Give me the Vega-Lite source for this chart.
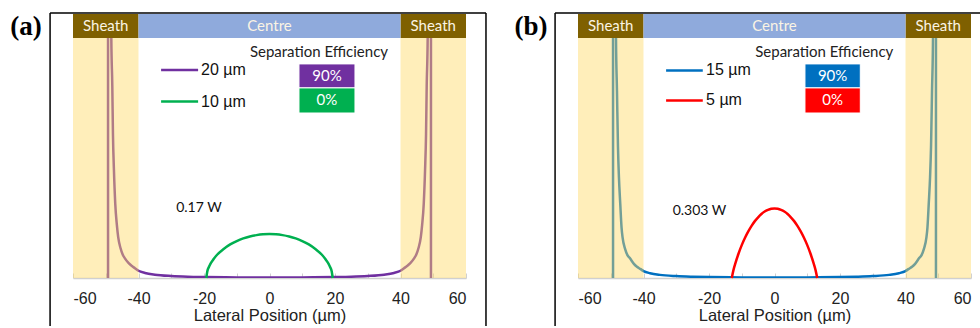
{
  "$schema": "https://vega.github.io/schema/vega-lite/v6.json",
  "autosize": {"type": "pad"},
  "padding": {"left": 10, "top": 12, "right": 0, "bottom": 0},
  "background": "white",
  "spacing": 112,
  "bounds": "flush",
  "config": {
    "view": {"stroke": null},
    "axisX": {"values": [-60, -40, -20, 0, 20, 40, 60], "grid": false, "labelExpr": "replace(datum.label, '−', '-')",
              "domainColor": "#d0d0d0", "domainWidth": 1.5, "tickColor": "#d0d0d0", "tickSize": -5, "tickWidth": 1,
              "labelPadding": 17, "labelFont": "Liberation Sans", "labelFontSize": 16, "labelColor": "#222",
              "titleFont": "Liberation Sans", "titleFontSize": 16.5, "titleFontWeight": "normal", "titleColor": "#222", "titlePadding": 1}
  },
  "datasets": {
    "u20": [
      {"x": -48.45, "y": 1.4}, {"x": -48.3, "y": 1.0}, {"x": -48.0, "y": 0.8}, {"x": -47.8, "y": 0.6}, {"x": -47.5, "y": 0.45},
      {"x": -47.1, "y": 0.31}, {"x": -46.6, "y": 0.22}, {"x": -46.2, "y": 0.17}, {"x": -45.5, "y": 0.125}, {"x": -44.8, "y": 0.097},
      {"x": -44.2, "y": 0.083}, {"x": -43.0, "y": 0.062}, {"x": -42.0, "y": 0.05}, {"x": -41.0, "y": 0.04}, {"x": -40.0, "y": 0.03},
      {"x": -38.0, "y": 0.021}, {"x": -35.0, "y": 0.014}, {"x": -30.0, "y": 0.0085}, {"x": -25.0, "y": 0.0055}, {"x": -20.0, "y": 0.004},
      {"x": -10.0, "y": 0.0025}, {"x": 0, "y": 0.002},
      {"x": 10.0, "y": 0.0025}, {"x": 20.0, "y": 0.004}, {"x": 25.0, "y": 0.0055}, {"x": 30.0, "y": 0.0085}, {"x": 35.0, "y": 0.014},
      {"x": 38.0, "y": 0.021}, {"x": 40.0, "y": 0.03}, {"x": 41.0, "y": 0.04}, {"x": 42.0, "y": 0.05}, {"x": 43.0, "y": 0.062},
      {"x": 44.2, "y": 0.083}, {"x": 44.8, "y": 0.097}, {"x": 45.5, "y": 0.125}, {"x": 46.2, "y": 0.17}, {"x": 46.6, "y": 0.22},
      {"x": 47.1, "y": 0.31}, {"x": 47.5, "y": 0.45}, {"x": 47.8, "y": 0.6}, {"x": 48.0, "y": 0.8}, {"x": 48.3, "y": 1.0}, {"x": 48.45, "y": 1.4}
    ],
    "u15": [
      {"x": -48.5, "y": 1.4}, {"x": -48.4, "y": 1.0}, {"x": -48.1, "y": 0.78}, {"x": -47.8, "y": 0.55}, {"x": -47.5, "y": 0.42},
      {"x": -47.1, "y": 0.31}, {"x": -46.7, "y": 0.21}, {"x": -46.4, "y": 0.17}, {"x": -45.6, "y": 0.12}, {"x": -44.9, "y": 0.095},
      {"x": -44.3, "y": 0.085}, {"x": -43.0, "y": 0.06}, {"x": -42.0, "y": 0.047}, {"x": -41.0, "y": 0.038}, {"x": -40.0, "y": 0.029},
      {"x": -38.0, "y": 0.02}, {"x": -35.0, "y": 0.013}, {"x": -30.0, "y": 0.008}, {"x": -25.0, "y": 0.0055}, {"x": -20.0, "y": 0.004},
      {"x": -10.0, "y": 0.0025}, {"x": 0, "y": 0.002},
      {"x": 10.0, "y": 0.0025}, {"x": 20.0, "y": 0.004}, {"x": 25.0, "y": 0.0055}, {"x": 30.0, "y": 0.008}, {"x": 35.0, "y": 0.013},
      {"x": 38.0, "y": 0.02}, {"x": 40.0, "y": 0.029}, {"x": 41.0, "y": 0.038}, {"x": 42.0, "y": 0.047}, {"x": 43.0, "y": 0.06},
      {"x": 44.3, "y": 0.085}, {"x": 44.9, "y": 0.095}, {"x": 45.6, "y": 0.12}, {"x": 46.4, "y": 0.17}, {"x": 46.7, "y": 0.21},
      {"x": 47.1, "y": 0.31}, {"x": 47.5, "y": 0.42}, {"x": 47.8, "y": 0.55}, {"x": 48.1, "y": 0.78}, {"x": 48.4, "y": 1.0}, {"x": 48.5, "y": 1.4}
    ],
    "p10": [
      {"x": -19.3, "y": 0}, {"x": -19, "y": 0.027}, {"x": -18.5, "y": 0.046}, {"x": -18, "y": 0.06}, {"x": -17, "y": 0.08},
      {"x": -16, "y": 0.097}, {"x": -14, "y": 0.121}, {"x": -12, "y": 0.14}, {"x": -10, "y": 0.154}, {"x": -8, "y": 0.165},
      {"x": -6, "y": 0.173}, {"x": -4, "y": 0.1786}, {"x": -2, "y": 0.182}, {"x": 0, "y": 0.183},
      {"x": 2, "y": 0.182}, {"x": 4, "y": 0.1786}, {"x": 6, "y": 0.173}, {"x": 8, "y": 0.165}, {"x": 10, "y": 0.154},
      {"x": 12, "y": 0.14}, {"x": 14, "y": 0.121}, {"x": 16, "y": 0.097}, {"x": 17, "y": 0.08}, {"x": 18, "y": 0.06},
      {"x": 18.5, "y": 0.046}, {"x": 19, "y": 0.027}, {"x": 19.3, "y": 0}
    ],
    "p5": [
      {"x": -13.05, "y": 0}, {"x": -12.5, "y": 0.0348}, {"x": -12, "y": 0.059}, {"x": -11, "y": 0.101}, {"x": -10, "y": 0.137},
      {"x": -9, "y": 0.1675}, {"x": -8, "y": 0.194}, {"x": -7, "y": 0.217}, {"x": -6, "y": 0.237}, {"x": -5, "y": 0.253},
      {"x": -4, "y": 0.2667}, {"x": -3, "y": 0.277}, {"x": -2, "y": 0.284}, {"x": -1, "y": 0.2886}, {"x": 0, "y": 0.29},
      {"x": 1, "y": 0.2886}, {"x": 2, "y": 0.284}, {"x": 3, "y": 0.277}, {"x": 4, "y": 0.2667}, {"x": 5, "y": 0.253},
      {"x": 6, "y": 0.237}, {"x": 7, "y": 0.217}, {"x": 8, "y": 0.194}, {"x": 9, "y": 0.1675}, {"x": 10, "y": 0.137},
      {"x": 11, "y": 0.101}, {"x": 12, "y": 0.059}, {"x": 12.5, "y": 0.0348}, {"x": 13.05, "y": 0}
    ],
    "walls": [{"x": -49.3}, {"x": 49.3}],
    "sheaths": [{"a": -60, "b": -40}, {"a": 40, "b": 60}],
    "heads": [{"t": "Sheath", "m": -50}, {"t": "Centre", "m": 0}, {"t": "Sheath", "m": 50}]
  },
  "hconcat": [
    {
      "width": 393,
      "height": 264,
      "data": {"values": [{}]},
      "layer": [
        {"data": {"name": "u20"},
         "mark": {"type": "line", "color": "#7030a0", "strokeWidth": 2.5, "interpolate": "monotone", "clip": true},
         "encoding": {"x": {"field": "x", "type": "quantitative", "scale": {"domain": [-60, 60], "nice": false}, "title": "Lateral Position (µm)"},
                      "y": {"field": "y", "type": "quantitative", "scale": {"domain": [0, 1.1], "nice": false}, "axis": null}}},
        {"mark": {"type": "rule", "color": "#000", "strokeWidth": 1.5},
         "encoding": {"x": {"datum": -67, "type": "quantitative", "scale": {"domain": [-60, 60], "nice": false}}, "x2": {"datum": 66.1},
                      "y": {"datum": 1.104, "type": "quantitative", "scale": {"domain": [0, 1.1], "nice": false}, "axis": null}}},
        {"mark": {"type": "rule", "color": "#000", "strokeWidth": 1.5},
         "encoding": {"x": {"datum": -67, "type": "quantitative", "scale": {"domain": [-60, 60], "nice": false}},
                      "y": {"datum": -0.2, "type": "quantitative", "scale": {"domain": [0, 1.1], "nice": false}, "axis": null}, "y2": {"datum": 1.104}}},
        {"mark": {"type": "rule", "color": "#000", "strokeWidth": 1.5},
         "encoding": {"x": {"datum": 66.1, "type": "quantitative", "scale": {"domain": [-60, 60], "nice": false}},
                      "y": {"datum": -0.2, "type": "quantitative", "scale": {"domain": [0, 1.1], "nice": false}, "axis": null}, "y2": {"datum": 1.104}}},
        {"data": {"name": "walls"},
         "mark": {"type": "rule", "color": "#7030a0", "strokeWidth": 2.5},
         "encoding": {"x": {"field": "x", "type": "quantitative", "scale": {"domain": [-60, 60], "nice": false}},
                      "y": {"datum": 0, "type": "quantitative", "scale": {"domain": [0, 1.1], "nice": false}, "axis": null}, "y2": {"datum": 1.0}}},
        {"data": {"name": "p10"},
         "mark": {"type": "line", "color": "#00b050", "strokeWidth": 2.5, "interpolate": "monotone"},
         "encoding": {"x": {"field": "x", "type": "quantitative", "scale": {"domain": [-60, 60], "nice": false}},
                      "y": {"field": "y", "type": "quantitative", "scale": {"domain": [0, 1.1], "nice": false}, "axis": null}}},
        {"data": {"name": "sheaths"},
         "mark": {"type": "rect", "color": "#ffd966", "opacity": 0.45},
         "encoding": {"x": {"field": "a", "type": "quantitative", "scale": {"domain": [-60, 60], "nice": false}}, "x2": {"field": "b"},
                      "y": {"datum": 0, "type": "quantitative", "scale": {"domain": [0, 1.1], "nice": false}, "axis": null}, "y2": {"datum": 1.0}}},
        {"data": {"name": "sheaths"},
         "mark": {"type": "rect", "color": "#7f6000"},
         "encoding": {"x": {"field": "a", "type": "quantitative", "scale": {"domain": [-60, 60], "nice": false}}, "x2": {"field": "b"},
                      "y": {"datum": 1.0, "type": "quantitative", "scale": {"domain": [0, 1.1], "nice": false}, "axis": null}, "y2": {"datum": 1.1}}},
        {"mark": {"type": "rect", "color": "#8faadc"},
         "encoding": {"x": {"datum": -40, "type": "quantitative", "scale": {"domain": [-60, 60], "nice": false}}, "x2": {"datum": 40},
                      "y": {"datum": 1.0, "type": "quantitative", "scale": {"domain": [0, 1.1], "nice": false}, "axis": null}, "y2": {"datum": 1.1}}},
        {"data": {"name": "heads"},
         "mark": {"type": "text", "color": "#fbf4e4", "font": "Lato", "fontSize": 15, "align": "center", "baseline": "middle"},
         "encoding": {"x": {"field": "m", "type": "quantitative", "scale": {"domain": [-60, 60], "nice": false}},
                      "y": {"datum": 1.05, "type": "quantitative", "scale": {"domain": [0, 1.1], "nice": false}, "axis": null},
                      "text": {"field": "t"}}},
        {"mark": {"type": "rule", "color": "#7030a0", "strokeWidth": 2.5},
         "encoding": {"x": {"datum": -33.1, "type": "quantitative", "scale": {"domain": [-60, 60], "nice": false}}, "x2": {"datum": -21.8},
                      "y": {"datum": 0.867, "type": "quantitative", "scale": {"domain": [0, 1.1], "nice": false}, "axis": null}}},
        {"mark": {"type": "rule", "color": "#00b050", "strokeWidth": 2.5},
         "encoding": {"x": {"datum": -33.1, "type": "quantitative", "scale": {"domain": [-60, 60], "nice": false}}, "x2": {"datum": -21.8},
                      "y": {"datum": 0.735, "type": "quantitative", "scale": {"domain": [0, 1.1], "nice": false}, "axis": null}}},
        {"mark": {"type": "text", "text": "20 µm", "font": "Liberation Sans", "fontSize": 16, "color": "#111", "align": "left", "baseline": "middle"},
         "encoding": {"x": {"datum": -20.9, "type": "quantitative", "scale": {"domain": [-60, 60], "nice": false}},
                      "y": {"datum": 0.867, "type": "quantitative", "scale": {"domain": [0, 1.1], "nice": false}, "axis": null}}},
        {"mark": {"type": "text", "text": "10 µm", "font": "Liberation Sans", "fontSize": 16, "color": "#111", "align": "left", "baseline": "middle"},
         "encoding": {"x": {"datum": -20.9, "type": "quantitative", "scale": {"domain": [-60, 60], "nice": false}},
                      "y": {"datum": 0.735, "type": "quantitative", "scale": {"domain": [0, 1.1], "nice": false}, "axis": null}}},
        {"mark": {"type": "text", "text": "Separation Efficiency", "font": "Lato", "fontSize": 15, "color": "#222", "align": "center", "baseline": "middle"},
         "encoding": {"x": {"datum": 15.1, "type": "quantitative", "scale": {"domain": [-60, 60], "nice": false}},
                      "y": {"datum": 0.942, "type": "quantitative", "scale": {"domain": [0, 1.1], "nice": false}, "axis": null}}},
        {"mark": {"type": "rect", "color": "#7030a0", "stroke": "#ffffff", "strokeWidth": 1},
         "encoding": {"x": {"datum": 9.0, "type": "quantitative", "scale": {"domain": [-60, 60], "nice": false}}, "x2": {"datum": 26.1},
                      "y": {"datum": 0.792, "type": "quantitative", "scale": {"domain": [0, 1.1], "nice": false}, "axis": null}, "y2": {"datum": 0.892}}},
        {"mark": {"type": "rect", "color": "#00b050", "stroke": "#ffffff", "strokeWidth": 1},
         "encoding": {"x": {"datum": 9.0, "type": "quantitative", "scale": {"domain": [-60, 60], "nice": false}}, "x2": {"datum": 26.1},
                      "y": {"datum": 0.6875, "type": "quantitative", "scale": {"domain": [0, 1.1], "nice": false}, "axis": null}, "y2": {"datum": 0.792}}},
        {"mark": {"type": "text", "text": "90%", "font": "Lato", "fontSize": 15, "color": "#ffffff", "align": "center", "baseline": "middle"},
         "encoding": {"x": {"datum": 17.55, "type": "quantitative", "scale": {"domain": [-60, 60], "nice": false}},
                      "y": {"datum": 0.842, "type": "quantitative", "scale": {"domain": [0, 1.1], "nice": false}, "axis": null}}},
        {"mark": {"type": "text", "text": "0%", "font": "Lato", "fontSize": 15, "color": "#ffffff", "align": "center", "baseline": "middle"},
         "encoding": {"x": {"datum": 17.55, "type": "quantitative", "scale": {"domain": [-60, 60], "nice": false}},
                      "y": {"datum": 0.74, "type": "quantitative", "scale": {"domain": [0, 1.1], "nice": false}, "axis": null}}},
        {"mark": {"type": "text", "text": "0.17 W", "font": "Lato", "fontSize": 14, "color": "#111", "align": "left", "baseline": "middle"},
         "encoding": {"x": {"datum": -28.5, "type": "quantitative", "scale": {"domain": [-60, 60], "nice": false}},
                      "y": {"datum": 0.29, "type": "quantitative", "scale": {"domain": [0, 1.1], "nice": false}, "axis": null}}},
        {"mark": {"type": "text", "text": "(a)", "font": "Liberation Serif", "fontWeight": "bold", "fontSize": 27, "color": "#000", "align": "center", "baseline": "middle"},
         "encoding": {"x": {"datum": -74.35, "type": "quantitative", "scale": {"domain": [-60, 60], "nice": false}},
                      "y": {"datum": 1.046, "type": "quantitative", "scale": {"domain": [0, 1.1], "nice": false}, "axis": null}}}
      ]
    },
    {
      "width": 393,
      "height": 264,
      "data": {"values": [{}]},
      "layer": [
        {"data": {"name": "u15"},
         "mark": {"type": "line", "color": "#0070c0", "strokeWidth": 2.5, "interpolate": "monotone", "clip": true},
         "encoding": {"x": {"field": "x", "type": "quantitative", "scale": {"domain": [-60, 60], "nice": false}, "title": "Lateral Position (µm)"},
                      "y": {"field": "y", "type": "quantitative", "scale": {"domain": [0, 1.1], "nice": false}, "axis": null}}},
        {"mark": {"type": "rule", "color": "#000", "strokeWidth": 1.5},
         "encoding": {"x": {"datum": -67, "type": "quantitative", "scale": {"domain": [-60, 60], "nice": false}}, "x2": {"datum": 62.9},
                      "y": {"datum": 1.104, "type": "quantitative", "scale": {"domain": [0, 1.1], "nice": false}, "axis": null}}},
        {"mark": {"type": "rule", "color": "#000", "strokeWidth": 1.5},
         "encoding": {"x": {"datum": -67, "type": "quantitative", "scale": {"domain": [-60, 60], "nice": false}},
                      "y": {"datum": -0.2, "type": "quantitative", "scale": {"domain": [0, 1.1], "nice": false}, "axis": null}, "y2": {"datum": 1.104}}},
        {"data": {"name": "walls"},
         "mark": {"type": "rule", "color": "#0070c0", "strokeWidth": 2.5},
         "encoding": {"x": {"field": "x", "type": "quantitative", "scale": {"domain": [-60, 60], "nice": false}},
                      "y": {"datum": 0, "type": "quantitative", "scale": {"domain": [0, 1.1], "nice": false}, "axis": null}, "y2": {"datum": 1.0}}},
        {"data": {"name": "p5"},
         "mark": {"type": "line", "color": "#ff0000", "strokeWidth": 2.5, "interpolate": "monotone"},
         "encoding": {"x": {"field": "x", "type": "quantitative", "scale": {"domain": [-60, 60], "nice": false}},
                      "y": {"field": "y", "type": "quantitative", "scale": {"domain": [0, 1.1], "nice": false}, "axis": null}}},
        {"data": {"name": "sheaths"},
         "mark": {"type": "rect", "color": "#ffd966", "opacity": 0.45},
         "encoding": {"x": {"field": "a", "type": "quantitative", "scale": {"domain": [-60, 60], "nice": false}}, "x2": {"field": "b"},
                      "y": {"datum": 0, "type": "quantitative", "scale": {"domain": [0, 1.1], "nice": false}, "axis": null}, "y2": {"datum": 1.0}}},
        {"data": {"name": "sheaths"},
         "mark": {"type": "rect", "color": "#7f6000"},
         "encoding": {"x": {"field": "a", "type": "quantitative", "scale": {"domain": [-60, 60], "nice": false}}, "x2": {"field": "b"},
                      "y": {"datum": 1.0, "type": "quantitative", "scale": {"domain": [0, 1.1], "nice": false}, "axis": null}, "y2": {"datum": 1.1}}},
        {"mark": {"type": "rect", "color": "#8faadc"},
         "encoding": {"x": {"datum": -40, "type": "quantitative", "scale": {"domain": [-60, 60], "nice": false}}, "x2": {"datum": 40},
                      "y": {"datum": 1.0, "type": "quantitative", "scale": {"domain": [0, 1.1], "nice": false}, "axis": null}, "y2": {"datum": 1.1}}},
        {"data": {"name": "heads"},
         "mark": {"type": "text", "color": "#fbf4e4", "font": "Lato", "fontSize": 15, "align": "center", "baseline": "middle"},
         "encoding": {"x": {"field": "m", "type": "quantitative", "scale": {"domain": [-60, 60], "nice": false}},
                      "y": {"datum": 1.05, "type": "quantitative", "scale": {"domain": [0, 1.1], "nice": false}, "axis": null},
                      "text": {"field": "t"}}},
        {"mark": {"type": "rule", "color": "#0070c0", "strokeWidth": 2.5},
         "encoding": {"x": {"datum": -33.1, "type": "quantitative", "scale": {"domain": [-60, 60], "nice": false}}, "x2": {"datum": -21.9},
                      "y": {"datum": 0.865, "type": "quantitative", "scale": {"domain": [0, 1.1], "nice": false}, "axis": null}}},
        {"mark": {"type": "rule", "color": "#ff0000", "strokeWidth": 2.5},
         "encoding": {"x": {"datum": -33.1, "type": "quantitative", "scale": {"domain": [-60, 60], "nice": false}}, "x2": {"datum": -21.9},
                      "y": {"datum": 0.74, "type": "quantitative", "scale": {"domain": [0, 1.1], "nice": false}, "axis": null}}},
        {"mark": {"type": "text", "text": "15 µm", "font": "Liberation Sans", "fontSize": 16, "color": "#111", "align": "left", "baseline": "middle"},
         "encoding": {"x": {"datum": -20.9, "type": "quantitative", "scale": {"domain": [-60, 60], "nice": false}},
                      "y": {"datum": 0.865, "type": "quantitative", "scale": {"domain": [0, 1.1], "nice": false}, "axis": null}}},
        {"mark": {"type": "text", "text": "5 µm", "font": "Liberation Sans", "fontSize": 16, "color": "#111", "align": "left", "baseline": "middle"},
         "encoding": {"x": {"datum": -20.9, "type": "quantitative", "scale": {"domain": [-60, 60], "nice": false}},
                      "y": {"datum": 0.74, "type": "quantitative", "scale": {"domain": [0, 1.1], "nice": false}, "axis": null}}},
        {"mark": {"type": "text", "text": "Separation Efficiency", "font": "Lato", "fontSize": 15, "color": "#222", "align": "center", "baseline": "middle"},
         "encoding": {"x": {"datum": 15.2, "type": "quantitative", "scale": {"domain": [-60, 60], "nice": false}},
                      "y": {"datum": 0.942, "type": "quantitative", "scale": {"domain": [0, 1.1], "nice": false}, "axis": null}}},
        {"mark": {"type": "rect", "color": "#0070c0", "stroke": "#ffffff", "strokeWidth": 1},
         "encoding": {"x": {"datum": 9.3, "type": "quantitative", "scale": {"domain": [-60, 60], "nice": false}}, "x2": {"datum": 26.2},
                      "y": {"datum": 0.792, "type": "quantitative", "scale": {"domain": [0, 1.1], "nice": false}, "axis": null}, "y2": {"datum": 0.892}}},
        {"mark": {"type": "rect", "color": "#ff0000", "stroke": "#ffffff", "strokeWidth": 1},
         "encoding": {"x": {"datum": 9.3, "type": "quantitative", "scale": {"domain": [-60, 60], "nice": false}}, "x2": {"datum": 26.2},
                      "y": {"datum": 0.6875, "type": "quantitative", "scale": {"domain": [0, 1.1], "nice": false}, "axis": null}, "y2": {"datum": 0.792}}},
        {"mark": {"type": "text", "text": "90%", "font": "Lato", "fontSize": 15, "color": "#ffffff", "align": "center", "baseline": "middle"},
         "encoding": {"x": {"datum": 17.75, "type": "quantitative", "scale": {"domain": [-60, 60], "nice": false}},
                      "y": {"datum": 0.842, "type": "quantitative", "scale": {"domain": [0, 1.1], "nice": false}, "axis": null}}},
        {"mark": {"type": "text", "text": "0%", "font": "Lato", "fontSize": 15, "color": "#ffffff", "align": "center", "baseline": "middle"},
         "encoding": {"x": {"datum": 17.75, "type": "quantitative", "scale": {"domain": [-60, 60], "nice": false}},
                      "y": {"datum": 0.74, "type": "quantitative", "scale": {"domain": [0, 1.1], "nice": false}, "axis": null}}},
        {"mark": {"type": "text", "text": "0.303 W", "font": "Lato", "fontSize": 14, "color": "#111", "align": "left", "baseline": "middle"},
         "encoding": {"x": {"datum": -31.1, "type": "quantitative", "scale": {"domain": [-60, 60], "nice": false}},
                      "y": {"datum": 0.28, "type": "quantitative", "scale": {"domain": [0, 1.1], "nice": false}, "axis": null}}},
        {"mark": {"type": "text", "text": "(b)", "font": "Liberation Serif", "fontWeight": "bold", "fontSize": 27, "color": "#000", "align": "center", "baseline": "middle"},
         "encoding": {"x": {"datum": -74.35, "type": "quantitative", "scale": {"domain": [-60, 60], "nice": false}},
                      "y": {"datum": 1.046, "type": "quantitative", "scale": {"domain": [0, 1.1], "nice": false}, "axis": null}}}
      ]
    }
  ]
}
